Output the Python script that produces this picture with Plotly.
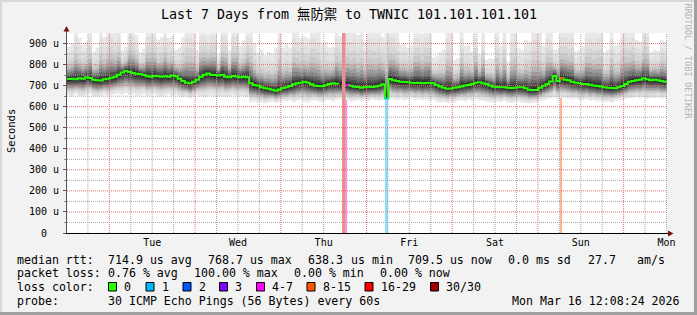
import numpy as np
import pandas as pd
import plotly.graph_objects as go

# ---------------- data ----------------
start_time = "2026-03-09 12:08:24"
end_time = "2026-03-16 12:08:24"
times = pd.date_range(start_time, periods=169, freq="h")

median_rtt_us = [
    731, 733, 730, 735, 733, 740, 736, 728, 726, 724,
    730, 733, 738, 742, 752, 762, 769, 765, 760, 757,
    755, 750, 745, 742, 746, 744, 742, 745, 742, 748,
    744, 733, 722, 714, 711, 718, 728, 742, 752, 758,
    752, 750, 748, 752, 742, 740, 746, 743, 740, 742,
    740, 711, 703, 700, 692, 688, 685, 680, 676, 682,
    689, 692, 698, 706, 711, 714, 719, 714, 706, 700,
    698, 697, 702, 708, 711, 709, 706, None, 703, 700,
    695, 693, 690, 693, 695, 693, 696, 700, 707, 640,
    732, 726, 722, 718, 717, 716, 714, 713, 714, 711,
    712, 714, 711, 703, 696, 690, 685, 686, 690, 692,
    696, 701, 703, 708, 714, 716, 711, 708, 701, 695,
    694, 692, 692, 690, 689, 690, 692, 692, 688, 681,
    679, 679, 690, 700, 708, 720, 746, 722, 735, 728,
    726, 718, 714, 711, 708, 708, 704, 701, 698, 696,
    692, 690, 689, 688, 692, 698, 708, 719, 722, 726,
    728, 735, 730, 726, 728, 726, 722, 719, 712,
]

rtt_min_us = [
    655, 650, 660, 652, 648, 655, 660, 650, 645, 652,
    658, 650, 655, 660, 662, 658, 665, 655, 660, 652,
    656, 662, 650, 655, 660, 652, 648, 655, 660, 650,
    655, 648, 645, 650, 640, 648, 655, 650, 645, 652,
    655, 650, 648, 652, 645, 650, 655, 648, 652, 650,
    645, 620, 625, 618, 622, 615, 620, 625, 618, 622,
    628, 625, 630, 622, 628, 632, 625, 620, 628, 630,
    625, 622, 628, 630, 625, 632, 635, None, 630, 625,
    628, 632, 625, 630, 628, 635, 630, 628, 632, 635,
    640, 635, 632, 638, 630, 635, 640, 632, 636, 630,
    635, 628, 632, 625, 620, 622, 618, 625, 620, 628,
    630, 625, 632, 628, 635, 630, 628, 625, 622, 620,
    625, 622, 628, 620, 618, 622, 625, 620, 618, 615,
    618, 620, 628, 632, 638, 640, 645, 635, 640, 642,
    638, 635, 640, 632, 630, 635, 628, 632, 625, 628,
    622, 625, 620, 628, 630, 632, 638, 640, 642, 645,
    640, 645, 638, 642, 640, 645, 638, 642, 640,
]

rtt_max_us = [
    885, 900, 980, 926, 893, 910, 980, 861, 880, 980,
    930, 980, 980, 950, 980, 870, 885, 980, 980, 940,
    861, 875, 980, 980, 980, 917, 930, 980, 926, 935,
    870, 880, 932, 980, 980, 960, 869, 980, 980, 945,
    980, 980, 845, 980, 980, 869, 980, 980, 888, 915,
    980, 980, 900, 855, 870, 845, 860, 850, 880, 980,
    880, 900, 880, 980, 960, 925, 935, 925, 980, 980,
    960, 900, 905, 880, 885, 980, 935, None, 980, 960,
    980, 940, 980, 905, 980, 980, 960, 980, 930, 980,
    980, 980, 950, 893, 900, 880, 893, 980, 980, 945,
    980, 980, 831, 840, 861, 870, 980, 960, 822, 830,
    980, 888, 895, 861, 980, 850, 960, 822, 830, 825,
    980, 888, 980, 814, 960, 980, 878, 870, 917, 910,
    980, 980, 950, 888, 980, 960, 870, 875, 980, 980,
    960, 980, 861, 870, 888, 980, 980, 960, 980, 980,
    861, 870, 980, 888, 895, 980, 980, 960, 980, 917,
    910, 980, 980, 861, 870, 865, 917, 910, 980,
]

loss_start = ["2026-03-12 17:08:24", "2026-03-12 18:08:24", "2026-03-13 05:08:24", "2026-03-15 06:10:00"]
loss_end = ["2026-03-12 18:08:24", "2026-03-12 18:35:00", "2026-03-13 06:00:00", "2026-03-15 06:45:00"]
loss_pings = [30, 5, 1, 10]

loss_labels = ["0", "1", "2", "3", "4-7", "8-15", "16-29", "30/30"]
loss_upper = [0, 1, 2, 3, 7, 15, 29, 30]
loss_colors = ["#26ff00", "#00b8ff", "#0059ff", "#7e00ff", "#ff00ff", "#ff5500", "#ff0000", "#a10000"]
loss_bg_colors = ["#ffffff", "#8ee0ff", "#80acff", "#bf80ff", "#ff88ff", "#ffb494", "#ff8080", "#f28a8a"]

day_labels = ["Tue", "Wed", "Thu", "Fri", "Sat", "Sun", "Mon"]
day_noons = ["2026-03-10 12:00", "2026-03-11 12:00", "2026-03-12 12:00", "2026-03-13 12:00",
             "2026-03-14 12:00", "2026-03-15 12:00", "2026-03-16 12:00"]
y_tickvals = [0, 100, 200, 300, 400, 500, 600, 700, 800, 900]
y_ticktext = ["0\u00a0\u00a0", "100 u", "200 u", "300 u", "400 u", "500 u", "600 u", "700 u", "800 u", "900 u"]
Y_MAX = 950

title_text = "Last 7 Days from 無防禦 to TWNIC 101.101.101.101"
rtt_row = ["median rtt:", "714.9 us avg", "768.7 us max", "638.3", "us min", "709.5 us now", "0.0 ms sd", "27.7", "am/s"]
loss_row = ["packet loss:", "0.76 % avg", "100.00 % max", "0.00 % min", "0.00 % now"]
probe_row = ["probe:", "30 ICMP Echo Pings (56 Bytes) every 60s"]
stamp_text = "Mon Mar 16 12:08:24 2026"

# ---------------- layout helpers ----------------
W, H = 697, 315
PL, PR, PT, PB = 67, 667, 33, 233
FONT = "DejaVu Sans Mono, Noto Sans CJK TC, monospace"


def px(x):
    return (x - PL) / (PR - PL)


def py(y):
    return (PB - y) / (PB - PT)


fig = go.Figure()

med = np.array([np.nan if v is None else v for v in median_rtt_us], float)
lo = np.array([np.nan if v is None else v for v in rtt_min_us], float)
hi = np.array([np.nan if v is None else v for v in rtt_max_us], float)
n = len(med)


def pick(p, colors):
    for up, c in zip(loss_upper, colors):
        if p <= up:
            return c
    return colors[-1]


# loss background bars
for s, e, p in zip(loss_start, loss_end, loss_pings):
    fig.add_trace(go.Scatter(x=[s, e, e, s, s], y=[0, 0, Y_MAX, Y_MAX, 0], fill="toself",
                             fillcolor=pick(p, loss_bg_colors), line=dict(width=0), mode="lines",
                             hoverinfo="skip", showlegend=False))

# smoke
runs = []
i = 0
while i < n:
    if np.isnan(med[i]):
        i += 1
        continue
    j = i
    while j + 1 < n and not np.isnan(med[j + 1]):
        j += 1
    runs.append((i, j))
    i = j + 1

# (fraction of spread below median, fraction of spread above median, grey level)
smoke_layers = [
    (1.00, 1.00, 232),
    (0.88, 0.80, 224),
    (0.78, 0.62, 214),
    (0.70, 0.48, 200),
    (0.62, 0.37, 180),
    (0.54, 0.29, 156),
    (0.45, 0.22, 130),
    (0.36, 0.16, 106),
    (0.27, 0.11, 82),
    (0.18, 0.07, 60),
    (0.10, 0.035, 42),
]

for a_frac, b_frac, g in smoke_layers:
    col = f"rgb({g},{g},{g})"
    lower = med - (med - lo) * a_frac
    upper = med + (hi - med) * b_frac
    for a, b in runs:
        if b + 1 < n:
            xs = list(times[a:b + 2])
            yl = list(lower[a:b + 1]) + [lower[b]]
            yu = list(upper[a:b + 1]) + [upper[b]]
        else:
            xs = list(times[a:b + 1])
            yl = list(lower[a:b + 1])
            yu = list(upper[a:b + 1])
        fig.add_trace(go.Scatter(x=xs, y=yl, mode="lines", line=dict(width=0, shape="hv"),
                                 hoverinfo="skip", showlegend=False))
        fig.add_trace(go.Scatter(x=xs, y=yu, mode="lines", line=dict(width=0, shape="hv"),
                                 fill="tonexty", fillcolor=col, hoverinfo="skip", showlegend=False))

# grid
minor_t = [t for t in pd.date_range("2026-03-09 18:00", "2026-03-16 12:00", freq="6h") if t.hour != 0]
major_t = [t for t in pd.date_range("2026-03-10 00:00", "2026-03-16 00:00", freq="D")]
minor_y = [v for v in range(50, Y_MAX, 50) if v % 100]
major_y = [v for v in range(100, Y_MAX, 100)]


def vlines(ts):
    xs, ys = [], []
    for t in ts:
        xs += [t, t, None]
        ys += [0, Y_MAX, None]
    return xs, ys


def hlines(vs):
    xs, ys = [], []
    for v in vs:
        xs += [start_time, end_time, None]
        ys += [v, v, None]
    return xs, ys


for (xs, ys), col in [(vlines(minor_t), "#a6a6a6"), (hlines(minor_y), "#a6a6a6"),
                      (vlines(major_t), "#e27272"), (hlines(major_y), "#e27272")]:
    fig.add_trace(go.Scatter(x=xs, y=ys, mode="lines", line=dict(color=col, width=1, dash="1px,1px"),
                             hoverinfo="skip", showlegend=False))

# median line
fig.add_trace(go.Scatter(x=times, y=med, mode="lines", line=dict(color=loss_colors[0], width=2, shape="hv"),
                         connectgaps=False, hoverinfo="skip", showlegend=False))

# loss coloured median pieces
for s, p in zip(loss_start, loss_pings):
    idx = int(np.searchsorted(times, pd.Timestamp(s), side="right") - 1)
    if idx < 0 or idx + 1 >= n or np.isnan(med[idx]):
        continue
    fig.add_trace(go.Scatter(x=[times[idx], times[idx + 1]], y=[med[idx], med[idx]], mode="lines",
                             line=dict(color=pick(p, loss_colors), width=2), hoverinfo="skip", showlegend=False))

# ---------------- axes ----------------
fig.update_xaxes(type="date", range=[start_time, end_time], tickvals=day_noons, ticktext=day_labels,
                 showgrid=False, zeroline=False, ticks="", showline=True, linecolor="#000000", linewidth=1,
                 tickfont=dict(family=FONT, size=10, color="#000000"), ticklabelstandoff=0, fixedrange=True)
fig.update_yaxes(range=[0, Y_MAX], tickvals=y_tickvals, ticktext=y_ticktext, showgrid=False, zeroline=False,
                 ticks="outside", ticklen=3, tickcolor="#555555", showline=True, linecolor="#555555", linewidth=1,
                 tickfont=dict(family=FONT, size=10, color="#000000"), ticklabelstandoff=2, fixedrange=True,
                 minor=dict(tickvals=minor_y, ticks="outside", ticklen=2, tickcolor="#888888", showgrid=False))

shapes = []
# border shading
shapes.append(dict(type="rect", xref="paper", yref="paper", x0=px(0), x1=px(W), y0=py(0), y1=py(2),
                   fillcolor="#d8d8d8", line=dict(width=0), layer="below"))
shapes.append(dict(type="rect", xref="paper", yref="paper", x0=px(0), x1=px(2), y0=py(0), y1=py(H),
                   fillcolor="#d8d8d8", line=dict(width=0), layer="below"))
shapes.append(dict(type="rect", xref="paper", yref="paper", x0=px(W - 3), x1=px(W), y0=py(0), y1=py(H),
                   fillcolor="#a0a0a0", line=dict(width=0), layer="below"))
shapes.append(dict(type="rect", xref="paper", yref="paper", x0=px(0), x1=px(W), y0=py(H - 3), y1=py(H),
                   fillcolor="#a0a0a0", line=dict(width=0), layer="below"))
# axis extensions and arrows
shapes.append(dict(type="line", xref="paper", yref="paper", x0=1, x1=px(669), y0=py(233.5), y1=py(233.5),
                   line=dict(color="#000000", width=1)))
shapes.append(dict(type="path", xref="paper", yref="paper",
                   path=f"M {px(668)},{py(230.5)} L {px(673.5)},{py(233.5)} L {px(668)},{py(236.5)} Z",
                   fillcolor="#7a1010", line=dict(width=0)))
shapes.append(dict(type="line", xref="paper", yref="paper", x0=px(66.5), x1=px(66.5), y0=1, y1=py(30),
                   line=dict(color="#555555", width=1)))
shapes.append(dict(type="path", xref="paper", yref="paper",
                   path=f"M {px(63.5)},{py(31.5)} L {px(66.5)},{py(26)} L {px(69.5)},{py(31.5)} Z",
                   fillcolor="#7a1010", line=dict(width=0)))

annotations = []


def txt(s, x, y, size=11.6, anchor="left", color="#000000", angle=0):
    annotations.append(dict(text=s, x=px(x), y=py(y), xref="paper", yref="paper", xanchor=anchor,
                            yanchor="middle", showarrow=False, borderpad=0, textangle=angle,
                            font=dict(family=FONT, size=size, color=color)))


txt(title_text, 349, 15, size=13.3, anchor="center")
txt("Seconds", 11, 131, size=10.5, anchor="center", angle=-90)
txt("RRDTOOL / TOBI OETIKER", 687.5, 61, size=8.7, anchor="center", color="#b4b4b4", angle=90)

ROW_Y = [259.7, 273.3, 287.0, 300.7]
for s, x in zip(rtt_row, [15.5, 107, 207, 306.5, 349.5, 407, 507, 586.5, 635.5]):
    txt(s, x, ROW_Y[0])
for s, x in zip(loss_row, [15.5, 107, 193, 292.5, 379]):
    txt(s, x, ROW_Y[1])
txt("loss color:", 15.5, ROW_Y[2])
for lab, col, bx in zip(loss_labels, loss_colors, [108.5, 146, 183, 219.5, 256.5, 307, 365, 430.5]):
    shapes.append(dict(type="rect", xref="paper", yref="paper", x0=px(bx), x1=px(bx + 8), y0=py(282.5),
                       y1=py(291), fillcolor=col, line=dict(color="#000000", width=1)))
    txt(lab, bx + 14.5, ROW_Y[2])
txt(probe_row[0], 15.5, ROW_Y[3])
txt(probe_row[1], 107, ROW_Y[3])
txt(stamp_text, 680.5, ROW_Y[3], anchor="right")

fig.update_layout(width=W, height=H, autosize=False,
                  margin=dict(l=PL, r=W - PR, t=PT, b=H - PB, pad=0),
                  paper_bgcolor="#f2f2f2", plot_bgcolor="#ffffff",
                  shapes=shapes, annotations=annotations, showlegend=False)

fig.write_html("out.html")
